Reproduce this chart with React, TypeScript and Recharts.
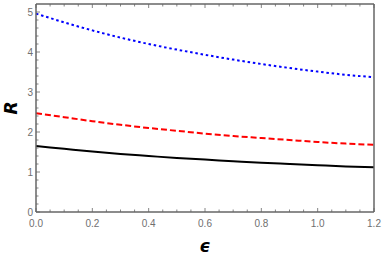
import { LineChart, Line, XAxis, YAxis } from 'recharts'

// epsilon sample points, every 0.1
const eps = [0, 0.1, 0.2, 0.3, 0.4, 0.5, 0.6, 0.7, 0.8, 0.9, 1.0, 1.1, 1.2]
const blackR = [1.65, 1.58, 1.51, 1.45, 1.4, 1.35, 1.31, 1.27, 1.23, 1.2, 1.17, 1.14, 1.12]
const redR = [2.47, 2.37, 2.27, 2.18, 2.1, 2.03, 1.96, 1.9, 1.85, 1.8, 1.75, 1.71, 1.68]
const blueR = [4.96, 4.74, 4.54, 4.36, 4.2, 4.06, 3.93, 3.81, 3.7, 3.6, 3.51, 3.43, 3.37]

const xTicks = [0, 0.05, 0.1, 0.15, 0.2, 0.25, 0.3, 0.35, 0.4, 0.45, 0.5, 0.55, 0.6, 0.65, 0.7, 0.75, 0.8, 0.85, 0.9, 0.95, 1.0, 1.05, 1.1, 1.15, 1.2]
const xMajor = [0, 0.2, 0.4, 0.6, 0.8, 1.0, 1.2]
const yTicks = [0, 0.2, 0.4, 0.6, 0.8, 1, 1.2, 1.4, 1.6, 1.8, 2, 2.2, 2.4, 2.6, 2.8, 3, 3.2, 3.4, 3.6, 3.8, 4, 4.2, 4.4, 4.6, 4.8, 5]
const yMajor = [0, 1, 2, 3, 4, 5]

const data = eps.map((e, i) => ({ eps: e, black: blackR[i], red: redR[i], blue: blueR[i] }))

const frame = '#666'
const labelColor = '#707070'
const font = 'Liberation Sans, Arial, sans-serif'

const isMajor = (list: number[], v: number) => list.some((m) => Math.abs(m - v) < 1e-6)

function XTick(props: any) {
  const { x, y, payload, side } = props
  const major = isMajor(xMajor, payload.value)
  const len = major ? 4 : 2.5
  const dir = side === 'top' ? 1 : -1
  return (
    <g>
      <line x1={x} x2={x} y1={y} y2={y + dir * len} stroke={frame} strokeWidth={0.8} />
      {major && side !== 'top' && (
        <text x={x} y={y + 14.5} textAnchor="middle" fontSize={10} fill={labelColor} fontFamily={font}>
          {payload.value.toFixed(1)}
        </text>
      )}
    </g>
  )
}

function YTick(props: any) {
  const { x, y, payload, side } = props
  const major = isMajor(yMajor, payload.value)
  const len = major ? 4 : 2.5
  const dir = side === 'right' ? -1 : 1
  return (
    <g>
      <line x1={x} x2={x + dir * len} y1={y} y2={y} stroke={frame} strokeWidth={0.8} />
      {major && side !== 'right' && (
        <text x={x - 3} y={y + 3.5} textAnchor="end" fontSize={10} fill={labelColor} fontFamily={font}>
          {payload.value}
        </text>
      )}
    </g>
  )
}

export default function App() {
  return (
    <div style={{ position: 'absolute', left: 0, top: 0, background: '#fff' }}>
      <LineChart width={382} height={256} data={data} margin={{ top: 3, right: 7, left: 0, bottom: 0 }}>
        <XAxis
          dataKey="eps"
          type="number"
          domain={[0, 1.2]}
          ticks={xTicks}
          interval={0}
          height={44}
          tickSize={0}
          tickMargin={0}
          tickLine={false}
          axisLine={{ stroke: frame, strokeWidth: 1.5 }}
          tick={<XTick side="bottom" />}
          label={{ value: 'ϵ', position: 'insideBottom', offset: 4, fontSize: 17, fontWeight: 'bold', fontStyle: 'italic', fill: '#000', fontFamily: 'DejaVu Sans' }}
        />
        <XAxis
          xAxisId="top"
          orientation="top"
          dataKey="eps"
          type="number"
          domain={[0, 1.2]}
          ticks={xTicks}
          interval={0}
          height={1}
          tickSize={0}
          tickMargin={0}
          tickLine={false}
          axisLine={{ stroke: frame, strokeWidth: 1.5 }}
          tick={<XTick side="top" />}
        />
        <YAxis
          type="number"
          domain={[0, 5.2]}
          ticks={yTicks}
          interval={0}
          width={36}
          tickSize={0}
          tickMargin={0}
          tickLine={false}
          axisLine={{ stroke: frame, strokeWidth: 1.5 }}
          tick={<YTick side="left" />}
          label={{ value: 'R', angle: -90, position: 'center', dx: -7, fontSize: 17, fontWeight: 'bold', fontStyle: 'italic', fill: '#000', fontFamily: 'DejaVu Sans' }}
        />
        <YAxis
          yAxisId="right"
          orientation="right"
          type="number"
          domain={[0, 5.2]}
          ticks={yTicks}
          interval={0}
          width={1}
          tickSize={0}
          tickMargin={0}
          tickLine={false}
          axisLine={{ stroke: frame, strokeWidth: 1.5 }}
          tick={<YTick side="right" />}
        />
        <Line dataKey="black" type="monotone" stroke="#000" strokeWidth={2} dot={false} isAnimationActive={false} />
        <Line dataKey="red" type="monotone" stroke="#f00" strokeWidth={2} strokeDasharray="6 3" dot={false} isAnimationActive={false} />
        <Line dataKey="blue" type="monotone" stroke="#00f" strokeWidth={2} strokeDasharray="2.5 2.8" dot={false} isAnimationActive={false} />
      </LineChart>
    </div>
  )
}
